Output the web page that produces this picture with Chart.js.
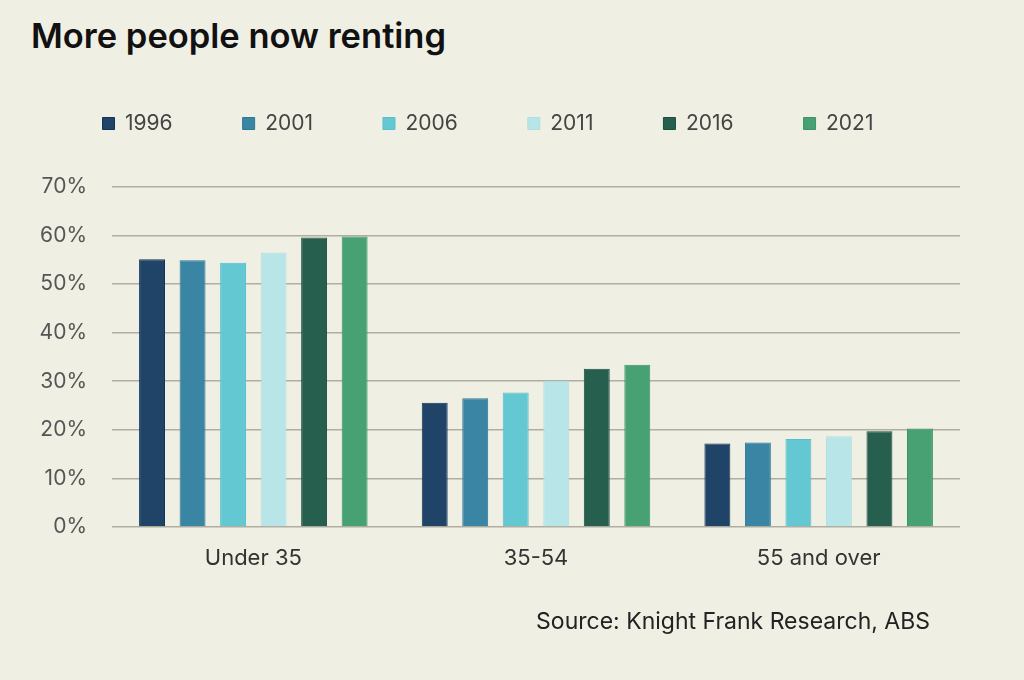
<!DOCTYPE html>
<html>
<head>
<meta charset="utf-8">
<script src="https://cdn.jsdelivr.net/npm/chart.js@4.4.1/dist/chart.umd.min.js"></script>
<style>
  html, body { margin: 0; padding: 0; background: #f0efe4; }
  body { width: 1024px; height: 680px; position: relative; overflow: hidden; font-family: Inter, "Noto Sans", sans-serif; }
  #title { position: absolute; left: 31px; top: 15px; font-size: 34.5px; font-weight: 600; color: #111; }
  #source { position: absolute; right: 94px; top: 607px; font-size: 23px; color: #222; }
  #wrap { position: absolute; left: 0; top: 0; width: 1024px; height: 680px; }
</style>
</head>
<body>
<div id="title">More people now renting</div>
<div id="wrap"><canvas id="chart"></canvas></div>
<div id="source">Source: Knight Frank Research, ABS</div>
<script>
// age groups and census years
const categories = ['Under 35', '35-54', '55 and over'];
const years = ['1996', '2001', '2006', '2011', '2016', '2021'];

// share renting (%), one array per census year
const v1996 = [55.1, 25.6, 17.2];
const v2001 = [54.9, 26.5, 17.4];
const v2006 = [54.4, 27.7, 18.1];
const v2011 = [56.5, 30.1, 18.7];
const v2016 = [59.6, 32.6, 19.7];
const v2021 = [59.8, 33.4, 20.3];

const yTicks = [0, 10, 20, 30, 40, 50, 60, 70];

const colors = ['#1f4468', '#3a84a4', '#63c8d2', '#b8e6e8', '#275f4f', '#48a172'];
const borders = ['#15325a', '#2f7596', '#58bfcb', '#aedfe2', '#1d4d3f', '#3c9464'];

const series = [v1996, v2001, v2006, v2011, v2016, v2021];

// legend needs extra room below it before the plot starts
const legendGap = {
    id: 'legendGap',
    afterInit(chart) {
        const fit = chart.legend.fit;
        chart.legend.fit = function () {
            fit.call(this);
            this.height += 43;
        };
    }
};

new Chart(document.getElementById('chart').getContext('2d'), {
    type: 'bar',
    data: {
        labels: categories,
        datasets: years.map((y, i) => ({
            label: y,
            data: series[i],
            backgroundColor: colors[i],
            borderColor: borders[i],
            borderWidth: 1,
            categoryPercentage: 0.86,
            barPercentage: 0.64
        }))
    },
    options: {
        responsive: true,
        maintainAspectRatio: false,
        animation: false,
        layout: {padding: {top: 43, right: 64, bottom: 110, left: 16}},
        plugins: {
            legend: {
                display: true,
                position: 'top',
                labels: {
                    boxWidth: 12,
                    boxHeight: 12,
                    padding: 70,
                    color: '#444',
                    font: {family: 'Inter', size: 21}
                }
            },
            tooltip: {enabled: false}
        },
        scales: {
            x: {
                grid: {display: false, drawTicks: false},
                border: {display: false},
                ticks: {color: '#333', padding: 18, font: {family: 'Inter', size: 22}},
                afterFit: (scale) => { scale.height = 43; }
            },
            y: {
                min: 0,
                max: 70,
                afterBuildTicks: (scale) => { scale.ticks = yTicks.map(v => ({value: v})); },
                grid: {color: '#b0ada2', lineWidth: 1.6, drawTicks: false},
                border: {display: false},
                ticks: {
                    color: '#555',
                    padding: 25,
                    font: {family: 'Inter', size: 21},
                    callback: (v) => v + '%'
                },
                afterFit: (scale) => { scale.width = 96; }
            }
        }
    },
    plugins: [legendGap]
});
</script>
</body>
</html>
